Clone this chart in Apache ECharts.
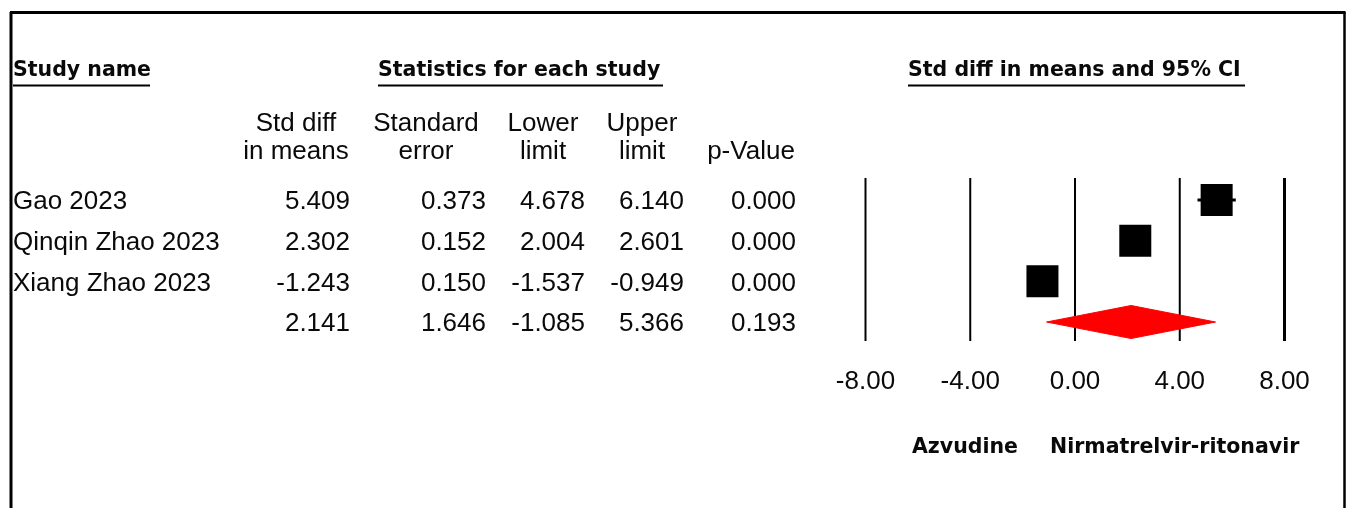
<!DOCTYPE html>
<html>
<head>
<meta charset="utf-8">
<script src="https://cdn.jsdelivr.net/npm/echarts@6/dist/echarts.min.js"></script>
<style>
  html, body { margin: 0; padding: 0; background: #fff; }
  #chart { width: 1349px; height: 508px; }
</style>
</head>
<body>
<div id="chart"></div>
<script>
// Meta-analysis: Azvudine vs Nirmatrelvir-ritonavir
const studies = ['Gao 2023', 'Qinqin Zhao 2023', 'Xiang Zhao 2023', ''];
const stdDiff = [5.409, 2.302, -1.243, 2.141];
const stdErr  = [0.373, 0.152, 0.150, 1.646];
const lower   = [4.678, 2.004, -1.537, -1.085];
const upper   = [6.140, 2.601, -0.949, 5.366];
const pValue  = [0.000, 0.000, 0.000, 0.193];
const xTicks  = [-8, -4, 0, 4, 8];
const summaryRow = 3;

const headerLeft = ['Study name', 'Statistics for each study', 'Std diff in means and 95% CI'];
const colHeads = [['Std diff', 'in means'], ['Standard', 'error'], ['Lower', 'limit'], ['Upper', 'limit'], ['', 'p-Value']];
const favours = ['Azvudine', 'Nirmatrelvir-ritonavir'];

const REG = '"Liberation Sans", Arial, sans-serif';
const BOLD = '"DejaVu Sans", Verdana, sans-serif';
const INK = '#0a0a0a';

// table column anchors (right edges of numeric columns, centres of headers)
const colRight = [350, 486, 585, 684, 796];
const colCenter = [296, 426, 543, 642, 751];
const TEXT_DY = 2;

const chart = echarts.init(document.getElementById('chart'), null, { renderer: 'canvas' });

const rowIdx = studies.map((_, i) => i);

function textEl(x, y, str, align, font, size, weight) {
  return {
    type: 'text',
    x: x, y: y + TEXT_DY,
    style: {
      text: str, fill: INK, align: align, verticalAlign: 'middle',
      fontFamily: font, fontSize: size, fontWeight: weight || 'normal'
    }
  };
}

const option = {
  animation: false,
  backgroundColor: '#fff',
  grid: { left: 865.5, width: 419, top: 178, height: 163 },
  xAxis: {
    type: 'value', min: -8, max: 8, interval: 4,
    axisLine: { show: false }, axisTick: { show: false },
    splitLine: { show: false },
    axisLabel: {
      color: INK, fontFamily: REG, fontSize: 26, margin: 28,
      formatter: v => v.toFixed(2)
    }
  },
  yAxis: {
    type: 'value', min: -0.541, max: 3.467, inverse: true, show: false
  },
  series: [
    {
      // vertical reference lines at each tick
      type: 'custom',
      silent: true,
      data: xTicks.map(v => [v, 0]),
      renderItem: (params, api) => {
        const v = api.value(0);
        const top = api.coord([v, -0.541]);
        const bot = api.coord([v, 3.467]);
        return {
          type: 'line',
          shape: { x1: top[0], y1: top[1], x2: bot[0], y2: bot[1] },
          style: { stroke: '#000', lineWidth: v === 8 ? 3 : 2 }
        };
      }
    },
    {
      // confidence interval whiskers
      type: 'custom',
      silent: true,
      data: rowIdx.filter(i => i !== summaryRow).map(i => [lower[i], i, upper[i]]),
      renderItem: (params, api) => {
        const a = api.coord([api.value(0), api.value(1)]);
        const b = api.coord([api.value(2), api.value(1)]);
        return {
          type: 'line',
          shape: { x1: a[0], y1: a[1], x2: b[0], y2: b[1] },
          style: { stroke: '#000', lineWidth: 3 }
        };
      }
    },
    {
      // study point estimates
      type: 'scatter',
      silent: true,
      symbol: 'rect',
      symbolSize: 32,
      itemStyle: { color: '#000', opacity: 1 },
      data: rowIdx.filter(i => i !== summaryRow).map(i => [stdDiff[i], i])
    },
    {
      // pooled estimate diamond
      type: 'custom',
      silent: true,
      data: [[lower[summaryRow], summaryRow, stdDiff[summaryRow], upper[summaryRow]]],
      renderItem: (params, api) => {
        const r = api.value(1);
        const l = api.coord([api.value(0), r]);
        const m = api.coord([api.value(2), r]);
        const u = api.coord([api.value(3), r]);
        const h = 16.5;
        return {
          type: 'polygon',
          shape: { points: [[l[0], l[1]], [m[0], m[1] - h], [u[0], u[1]], [m[0], m[1] + h]] },
          style: { fill: '#ff0000', stroke: '#ff0000', lineWidth: 1 }
        };
      }
    },
    {
      // statistics table rows
      type: 'custom',
      silent: true,
      clip: false,
      data: rowIdx.map(i => [0, i]),
      renderItem: (params, api) => {
        const i = params.dataIndex;
        const y = api.coord([0, api.value(1)])[1];
        const vals = [stdDiff[i], stdErr[i], lower[i], upper[i], pValue[i]];
        const children = [textEl(13, y, studies[i], 'left', REG, 26)];
        vals.forEach((v, c) => children.push(textEl(colRight[c], y, v.toFixed(3), 'right', REG, 26)));
        return { type: 'group', children: children };
      }
    }
  ],
  graphic: [
    // outer frame
    { type: 'line', shape: { x1: 11, y1: 12, x2: 11, y2: 520 }, style: { stroke: '#000', lineWidth: 3 } },
    { type: 'line', shape: { x1: 10, y1: 12.5, x2: 1345.5, y2: 12.5 }, style: { stroke: '#000', lineWidth: 3 } },
    { type: 'line', shape: { x1: 1344.5, y1: 12, x2: 1344.5, y2: 520 }, style: { stroke: '#000', lineWidth: 2.5 } },
    // section headers with underlines
    textEl(13, 69, headerLeft[0], 'left', BOLD, 20.5, 'bold'),
    { type: 'line', shape: { x1: 13, y1: 85.5, x2: 150, y2: 85.5 }, style: { stroke: '#000', lineWidth: 2 } },
    textEl(378, 69, headerLeft[1], 'left', BOLD, 20.5, 'bold'),
    { type: 'line', shape: { x1: 378, y1: 85.5, x2: 663, y2: 85.5 }, style: { stroke: '#000', lineWidth: 2 } },
    textEl(908, 69, headerLeft[2], 'left', BOLD, 20.5, 'bold'),
    { type: 'line', shape: { x1: 908, y1: 85.5, x2: 1245, y2: 85.5 }, style: { stroke: '#000', lineWidth: 2 } },
    // column headers
    ...colHeads.flatMap((h, c) => [
      textEl(colCenter[c], 122, h[0], 'center', REG, 26),
      textEl(colCenter[c], 150, h[1], 'center', REG, 26)
    ]),
    // favours labels
    textEl(912, 446, favours[0], 'left', BOLD, 20.5, 'bold'),
    textEl(1050, 446, favours[1], 'left', BOLD, 20.5, 'bold')
  ]
};

chart.setOption(option);
</script>
</body>
</html>
